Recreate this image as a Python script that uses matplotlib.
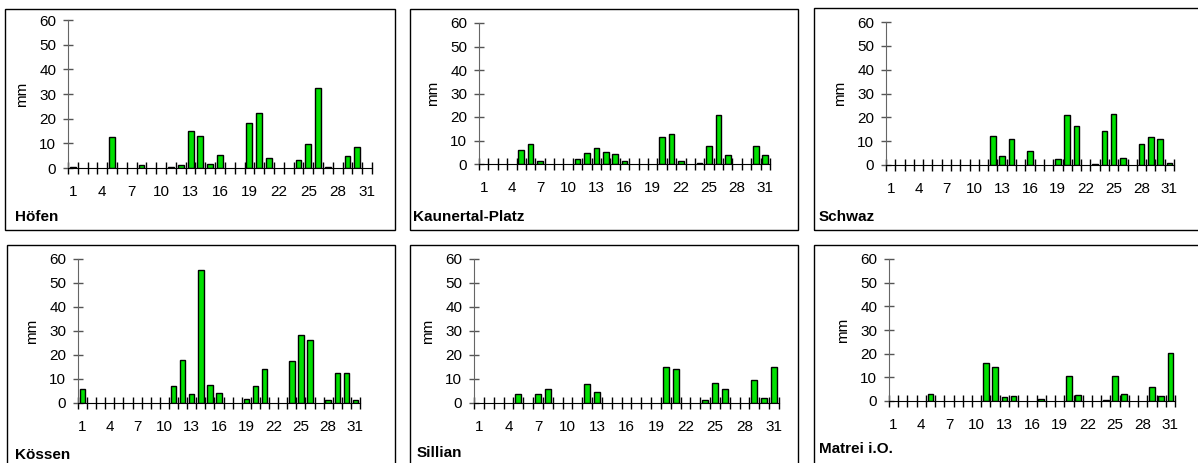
import numpy as np
import matplotlib
matplotlib.use("Agg")
import matplotlib.pyplot as plt
from matplotlib.patches import Rectangle

plt.rcParams['font.family'] = ['Liberation Sans', 'DejaVu Sans']

W, H = 1198, 463

days = list(range(1, 32))
day_labels = [1, 4, 7, 10, 13, 16, 19, 22, 25, 28, 31]

stations = ["Höfen", "Kaunertal-Platz", "Schwaz", "Kössen", "Sillian", "Matrei i.O."]

# daily precipitation in mm, days 1..31
hoefen = [0.3, 0, 0, 0, 12.5, 0, 0, 1.1, 0, 0, 0.5, 1.1, 15.0, 13.0, 1.6, 5.2,
          0, 0, 18.2, 22.3, 4.2, 0, 0, 3.1, 9.9, 32.6, 0.6, 0, 4.8, 8.4, 0]
kaunertal = [0, 0, 0, 0, 5.9, 8.5, 1.1, 0, 0, 0, 2.0, 4.8, 6.9, 5.2, 4.2, 1.1,
             0, 0, 0, 11.3, 12.9, 1.1, 0, 0.6, 7.5, 20.8, 3.8, 0, 0, 7.5, 3.8]
schwaz = [0, 0, 0, 0, 0, 0, 0, 0, 0, 0, 0, 12.1, 3.8, 11.1, 0, 5.9,
          0, 0, 2.4, 21.0, 16.4, 0, 0.6, 14.2, 21.6, 3.1, 0, 9.0, 11.8, 11.1, 1.0]
koessen = [5.8, 0, 0, 0, 0, 0, 0, 0, 0, 0, 6.9, 17.9, 3.7, 55.5, 7.5, 4.3,
           0, 0, 1.7, 6.9, 14.1, 0, 0, 17.3, 28.3, 26.3, 0, 1.1, 12.6, 12.6, 1.1]
sillian = [0, 0, 0, 0, 3.7, 0, 3.7, 5.8, 0, 0, 0, 7.9, 4.7, 0, 0, 0,
           0, 0, 0, 14.8, 14.1, 0, 0, 1.1, 8.4, 5.8, 0, 0, 9.5, 2.1, 14.8]
matrei = [0, 0, 0, 0, 3.1, 0, 0, 0, 0, 0, 16.1, 14.4, 1.6, 2.1, 0, 0,
          0.7, 0, 0, 10.6, 2.5, 0, 0, 0.6, 10.6, 3.1, 0, 0, 5.8, 2.1, 20.2]

series = [hoefen, kaunertal, schwaz, koessen, sillian, matrei]

# pixel layout: frame box, axes box (left, right, top, bottom), label position
frames = [(5, 395, 9, 230), (410, 798, 9, 230), (814, 1210, 8, 230),
          (7, 395, 245, 475), (410, 798, 245, 475), (814, 1210, 245, 475)]
axboxes = [(68, 372, 20, 168), (479, 770, 23, 164), (886, 1174, 22, 165),
           (78, 360, 259, 403), (474, 779, 259, 403), (889, 1175, 259, 401)]
name_pos = [(15, 217), (413, 217), (819, 217), (15, 455), (417, 453), (819, 449)]

fig = plt.figure(figsize=(W / 100, H / 100), dpi=100)

for i in range(6):
    fl, fr, ft, fb = frames[i]
    fig.patches.append(Rectangle((fl / W, 1 - fb / H), (fr - fl) / W, (fb - ft) / H,
                                 transform=fig.transFigure, fill=False,
                                 edgecolor='black', linewidth=1.0))

    l, r, t, b = axboxes[i]
    ax = fig.add_axes([l / W, 1 - b / H, (r - l) / W, (b - t) / H])
    vals = np.array(series[i])
    x = np.array(days)
    m = vals > 0
    ax.bar(x[m], vals[m], width=0.6, color='#00e000', edgecolor='black',
           linewidth=1.0, zorder=3)

    ax.set_xlim(0.5, 31.5)
    ax.set_ylim(0, 60)
    ax.set_yticks(range(0, 61, 10))
    ax.set_xticks(np.arange(0.5, 32, 1.0))
    ax.set_xticklabels([])
    ax.set_xticks(day_labels, [str(d) for d in day_labels], minor=True)
    ax.tick_params(axis='x', which='major', direction='inout', length=8,
                   width=1.0, color='black')
    ax.tick_params(axis='x', which='minor', length=0, pad=12, labelsize=11)
    ax.tick_params(axis='y', direction='inout', length=7, width=1.0,
                   color='#555555', pad=5, labelsize=11)
    for s in ['top', 'right']:
        ax.spines[s].set_visible(False)
    ax.spines['left'].set_color('#666666')
    ax.spines['bottom'].set_color('black')
    ax.spines['bottom'].set_zorder(4)
    ax.set_ylabel('mm', fontsize=11, labelpad=7)
    ax.patch.set_alpha(0)

    nx, ny = name_pos[i]
    fig.text(nx / W, 1 - ny / H, stations[i], fontsize=11, fontweight='bold',
             ha='left', va='center')

fig.savefig('out.png', dpi=100)
